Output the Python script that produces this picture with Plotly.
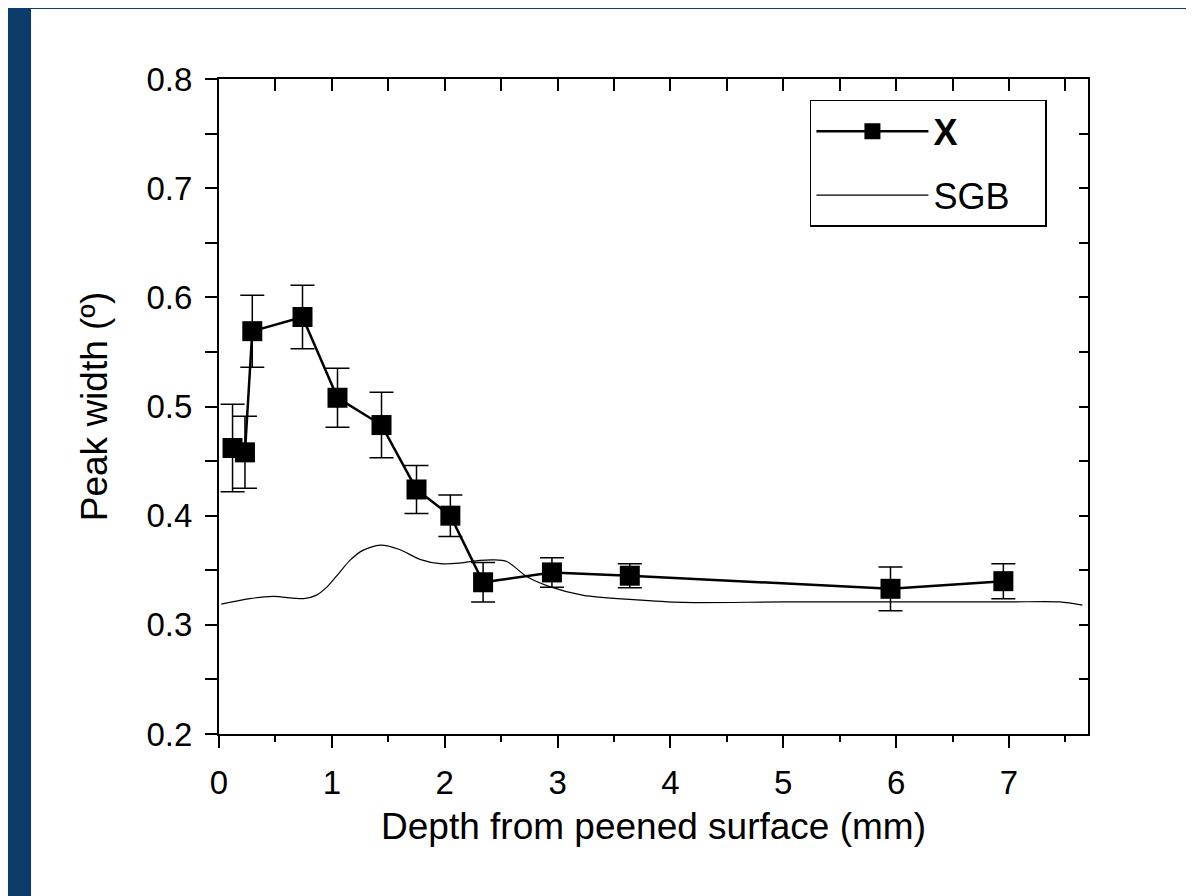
import plotly.graph_objects as go

# peak width of X measured vs depth, with error bars
depth = [0.12, 0.23, 0.295, 0.74, 1.05, 1.44, 1.75, 2.05, 2.34, 2.95, 3.64, 5.95, 6.95]
peak_width = [0.462, 0.458, 0.569, 0.582, 0.508, 0.483, 0.424, 0.400, 0.339, 0.348, 0.345, 0.333, 0.340]
peak_err = [0.040, 0.033, 0.033, 0.029, 0.027, 0.030, 0.022, 0.019, 0.018, 0.0135, 0.011, 0.020, 0.016]

# SGB reference curve
sgb_depth = [0.02, 0.27, 0.48, 0.75, 0.86, 0.96, 1.06, 1.16, 1.27, 1.43, 1.60, 1.78, 1.96, 2.13, 2.31,
             2.43, 2.55, 2.73, 2.93, 3.23, 3.67, 4.11, 5.0, 6.0, 7.0, 7.45, 7.65]
sgb_width = [0.319, 0.324, 0.326, 0.324, 0.327, 0.335, 0.347, 0.359, 0.368, 0.373, 0.369, 0.360, 0.356, 0.3565, 0.359,
             0.3595, 0.358, 0.344, 0.335, 0.327, 0.323, 0.3205, 0.321, 0.321, 0.321, 0.321, 0.318]

font_family = "Liberation Sans, Arial, sans-serif"

fig = go.Figure()

fig.add_trace(go.Scatter(
    x=depth, y=peak_width,
    mode="lines+markers",
    name="<b>X</b>",
    line=dict(color="black", width=2.5),
    marker=dict(symbol="square", size=20, color="black"),
    error_y=dict(type="data", array=peak_err, visible=True,
                 color="black", thickness=1.5, width=12),
    legendgroup="a",
))

fig.add_trace(go.Scatter(
    x=sgb_depth, y=sgb_width,
    mode="lines",
    name="SGB\u00a0\u00a0\u00a0",  # trailing spaces widen the legend box
    line=dict(color="black", width=1.2, shape="spline", smoothing=0.8),
    legendgroup="b",
))

# empty trace so the mirrored top/right axes get drawn
fig.add_trace(go.Scatter(x=[], y=[], xaxis="x2", yaxis="y2", showlegend=False))

axis_common = dict(showline=True, linewidth=2, linecolor="black",
                   showgrid=False, zeroline=False, tickcolor="black", tickwidth=2)

# the page body adds an 8px offset, so margins are shifted by that
fig.update_layout(
    width=1194, height=896,
    margin=dict(l=211, r=114, t=71, b=170),
    paper_bgcolor="#0b3b69",
    plot_bgcolor="white",
    font=dict(family=font_family, color="black", size=33),
    showlegend=True,
    legend=dict(x=0.68, y=0.968, xanchor="left", yanchor="top",
                bgcolor="white", bordercolor="black", borderwidth=1.5,
                font=dict(size=36), tracegroupgap=14, itemwidth=112),
    xaxis=dict(range=[0, 7.7], dtick=1, tick0=0, ticks="outside", ticklen=12,
               ticklabelstandoff=6,
               minor=dict(ticks="outside", ticklen=6, dtick=0.5, tickwidth=2, tickcolor="black"),
               title=dict(text="Depth from peened surface (mm)", font=dict(size=37), standoff=14),
               **axis_common),
    yaxis=dict(range=[0.2, 0.8], dtick=0.1, tick0=0.2, tickformat=".1f",
               ticks="outside", ticklen=12, ticklabelstandoff=6,
               minor=dict(ticks="outside", ticklen=12, dtick=0.05, tickwidth=2, tickcolor="black"),
               title=dict(text="Peak width (º)", font=dict(size=37), standoff=28),
               **axis_common),
    xaxis2=dict(range=[0, 7.7], overlaying="x", side="top", anchor="y2",
                dtick=0.5, tick0=0, ticks="inside", ticklen=12, showticklabels=False,
                **axis_common),
    yaxis2=dict(range=[0.2, 0.8], overlaying="y", side="right", anchor="x2",
                dtick=0.05, tick0=0.2, ticks="inside", ticklen=9, showticklabels=False,
                **axis_common),
    shapes=[dict(type="rect", xref="paper", yref="paper",
                 x0=-0.2163, x1=1.1243, y0=-0.30, y1=1.1069,
                 fillcolor="white", line=dict(width=0), layer="below")],
)

fig.write_html("out.html")
